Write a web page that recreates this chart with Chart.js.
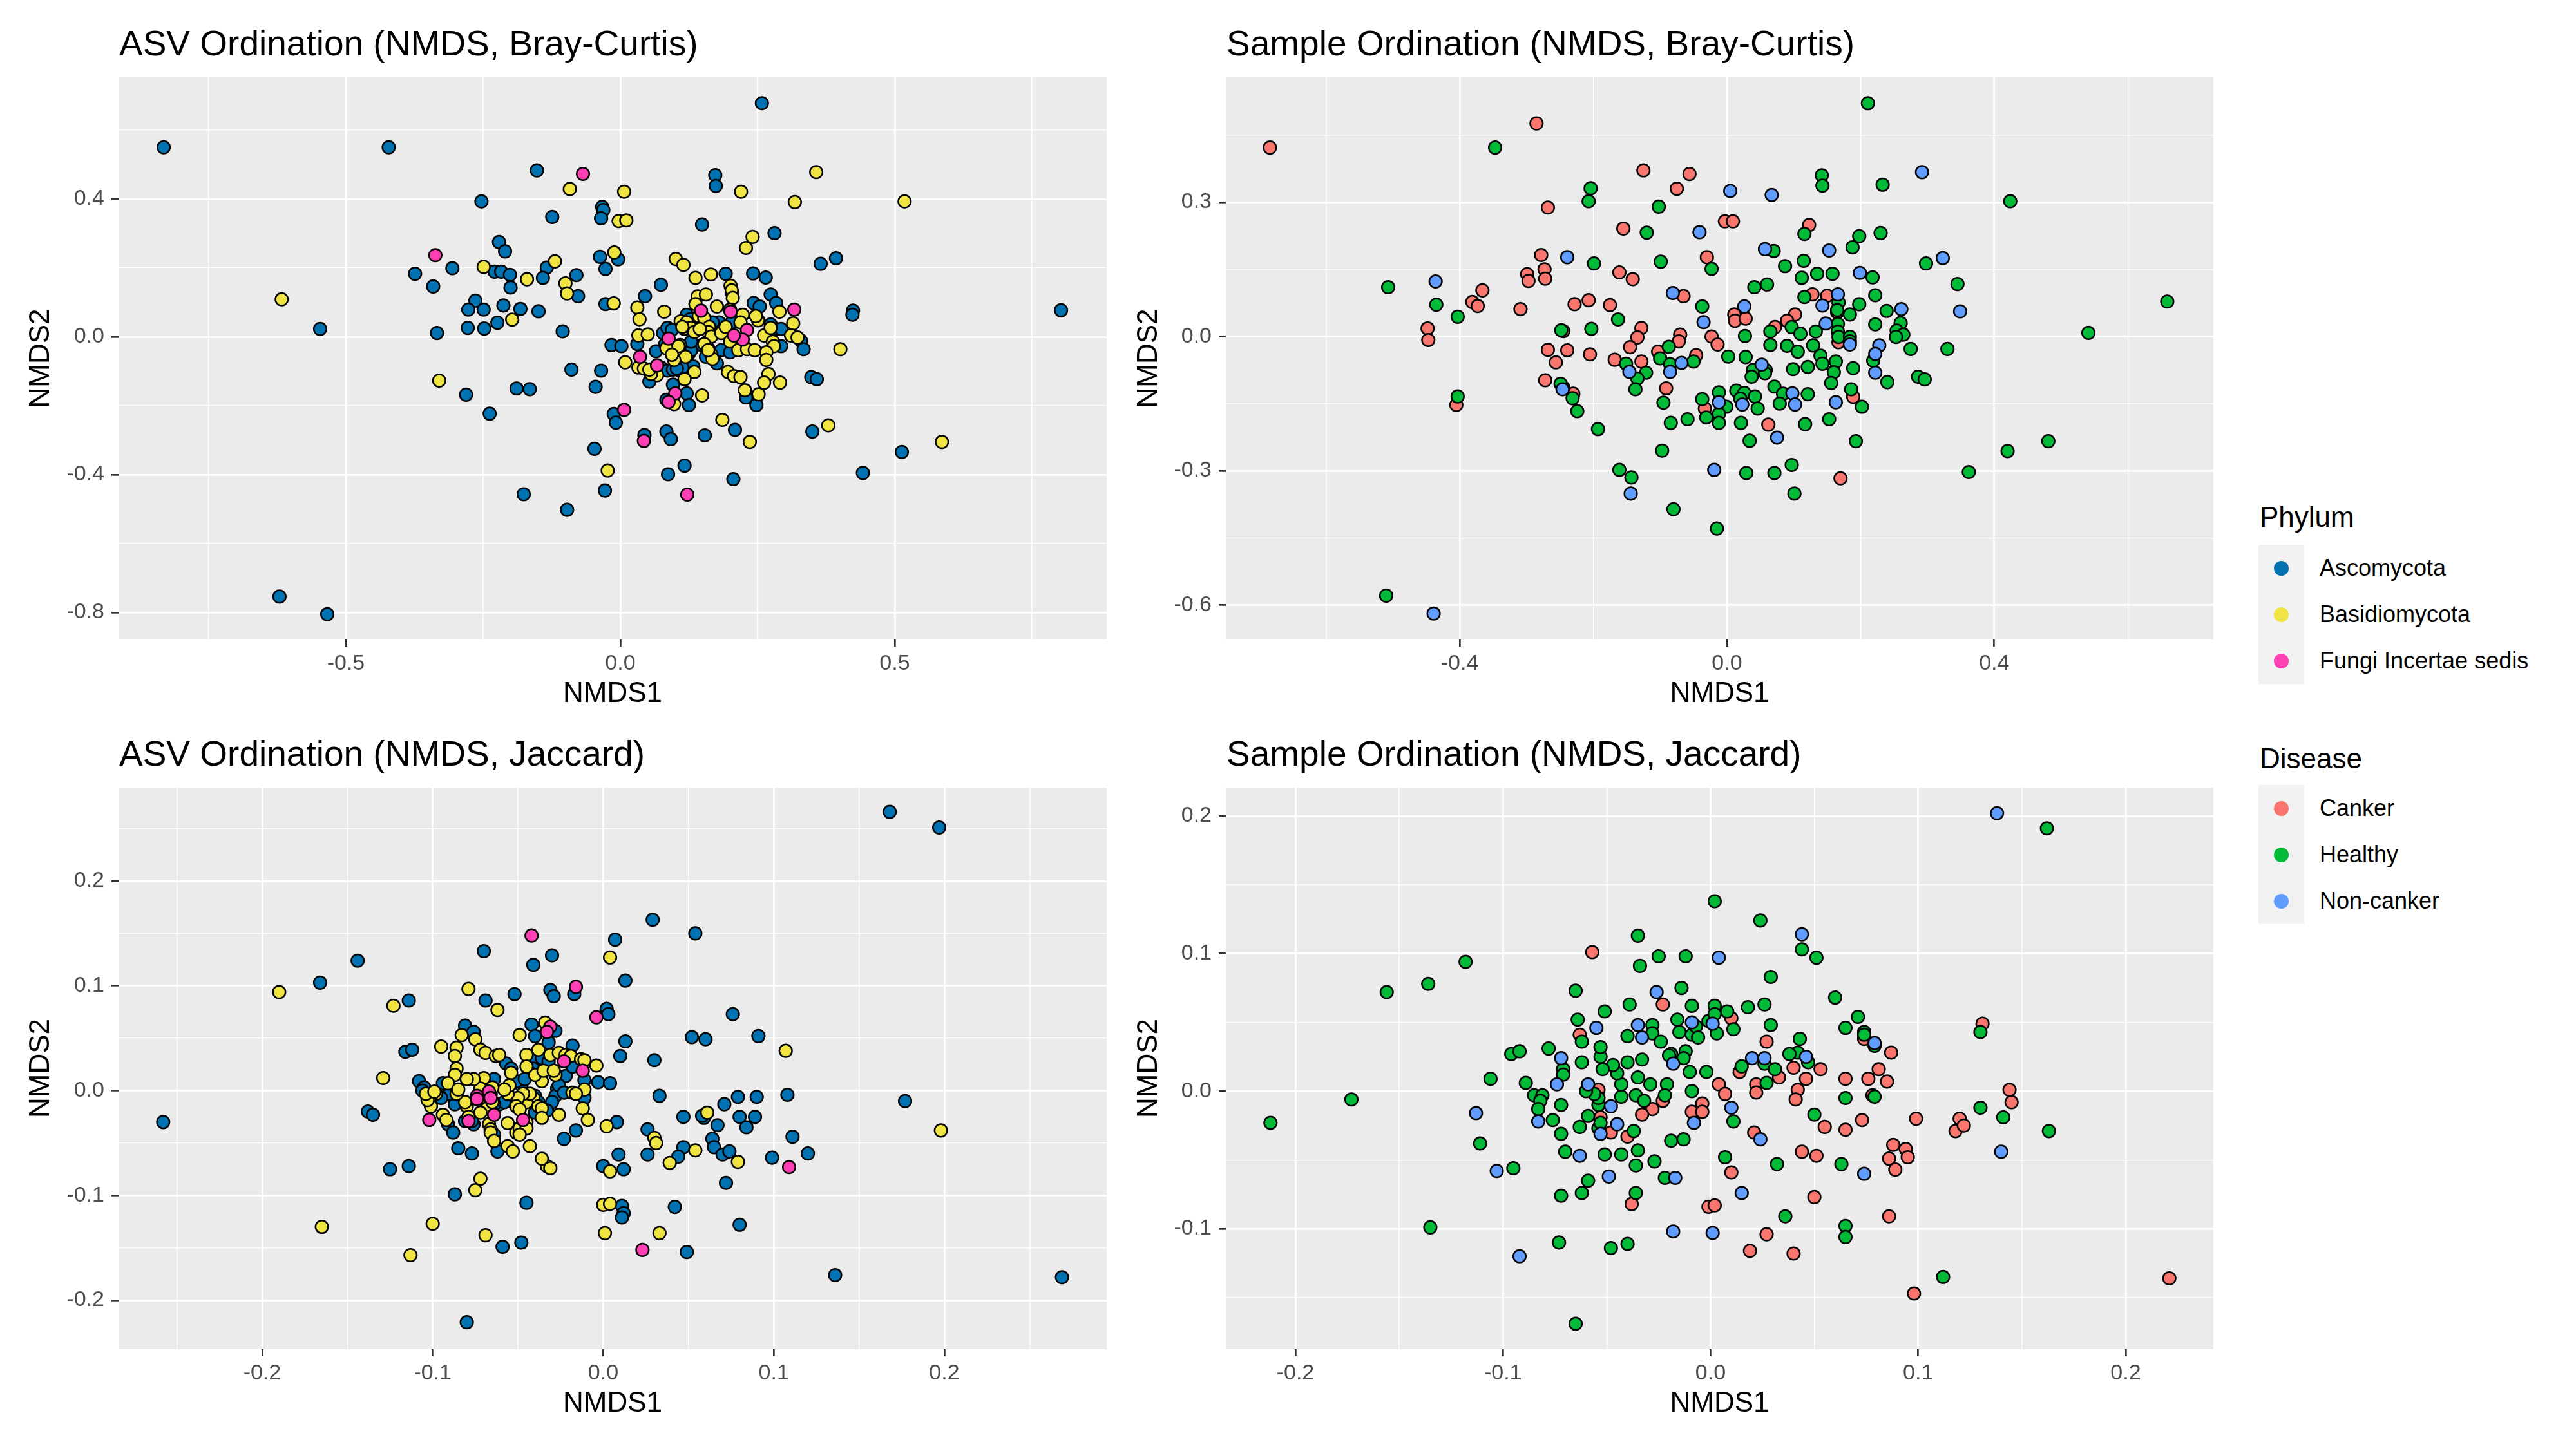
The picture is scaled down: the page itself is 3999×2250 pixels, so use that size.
<!DOCTYPE html>
<html>
<head>
<meta charset="utf-8">
<script src="https://cdn.jsdelivr.net/npm/chart.js@4.4.1/dist/chart.umd.min.js"></script>
<style>
html,body{margin:0;padding:0;background:#ffffff;}
body{width:3999px;height:2250px;position:relative;overflow:hidden;font-family:"Liberation Sans",Arial,Helvetica,sans-serif;}
canvas{position:absolute;}
.title{position:absolute;font-size:55px;line-height:55px;color:#000;white-space:nowrap;}
.ltitle{position:absolute;font-size:44px;line-height:44px;color:#000;white-space:nowrap;}
.ltext{position:absolute;font-size:36px;line-height:36px;color:#000;white-space:nowrap;}
.keybg{position:absolute;background:#F2F2F2;}
.dot{position:absolute;border-radius:50%;width:23px;height:23px;}
</style>
</head>
<body>
<div class="title" style="left:185px;top:40px;">ASV Ordination (NMDS, Bray-Curtis)</div>
<div class="title" style="left:1904px;top:40px;">Sample Ordination (NMDS, Bray-Curtis)</div>
<div class="title" style="left:185px;top:1143px;">ASV Ordination (NMDS, Jaccard)</div>
<div class="title" style="left:1904px;top:1143px;">Sample Ordination (NMDS, Jaccard)</div>
<canvas id="c1" width="1740" height="1110" style="left:0px;top:0px;"></canvas>
<canvas id="c2" width="1740" height="1110" style="left:1720px;top:0px;"></canvas>
<canvas id="c3" width="1740" height="1102" style="left:0px;top:1110px;"></canvas>
<canvas id="c4" width="1740" height="1102" style="left:1720px;top:1110px;"></canvas>
<div id="legend"></div>
<script>
// ---------------- categories ----------------
const phylumNames = ["Ascomycota", "Basidiomycota", "Fungi Incertae sedis"];
const phylumColors = ["#0072B2", "#F0E442", "#FF3FB4"];
const diseaseNames = ["Canker", "Healthy", "Non-canker"];
const diseaseColors = ["#F8766D", "#00BA38", "#619CFF"];

// ---------------- tick labels ----------------
const asvBrayXTicks = [-0.5, 0.0, 0.5];
const asvBrayXMinor = [-0.75, -0.25, 0.25, 0.75];
const asvBrayYTicks = [-0.8, -0.4, 0.0, 0.4];
const asvBrayYMinor = [-0.6, -0.2, 0.2, 0.6];
const smpBrayXTicks = [-0.4, 0.0, 0.4];
const smpBrayXMinor = [-0.6, -0.2, 0.2, 0.6];
const smpBrayYTicks = [-0.6, -0.3, 0.0, 0.3];
const smpBrayYMinor = [-0.45, -0.15, 0.15, 0.45];
const asvJacXTicks = [-0.2, -0.1, 0.0, 0.1, 0.2];
const asvJacXMinor = [-0.25, -0.15, -0.05, 0.05, 0.15, 0.25];
const asvJacYTicks = [-0.2, -0.1, 0.0, 0.1, 0.2];
const asvJacYMinor = [-0.15, -0.05, 0.05, 0.15, 0.25];
const smpJacXTicks = [-0.2, -0.1, 0.0, 0.1, 0.2];
const smpJacXMinor = [-0.15, -0.05, 0.05, 0.15];
const smpJacYTicks = [-0.1, 0.0, 0.1, 0.2];
const smpJacYMinor = [-0.15, -0.05, 0.05, 0.15];

// ---------------- ASV, Bray-Curtis ----------------
const asvBrayAscomycota = [[-0.832,0.550],[-0.422,0.550],[0.258,0.678],[-0.152,0.483],[-0.253,0.393],[-0.124,0.348],[-0.033,0.377],[-0.031,0.368],[-0.035,0.344],[0.173,0.469],[0.174,0.438],[0.149,0.326],[0.281,0.301],[-0.221,0.275],[-0.210,0.248],[-0.306,0.199],[-0.374,0.183],[-0.341,0.146],[-0.134,0.201],[-0.141,0.171],[-0.080,0.179],[-0.077,0.118],[-0.037,0.232],[-0.027,0.197],[-0.004,0.225],[-0.229,0.189],[-0.217,0.189],[-0.201,0.180],[-0.200,0.143],[-0.264,0.105],[-0.277,0.079],[-0.249,0.079],[-0.213,0.091],[-0.182,0.081],[-0.149,0.074],[-0.224,0.041],[-0.278,0.026],[-0.248,0.024],[-0.334,0.011],[-0.547,0.023],[-0.105,0.016],[0.365,0.212],[0.393,0.228],[0.265,0.172],[0.242,0.184],[0.192,0.183],[0.803,0.077],[-0.089,-0.095],[-0.189,-0.150],[-0.165,-0.152],[-0.281,-0.168],[-0.238,-0.223],[-0.012,-0.224],[-0.008,-0.249],[0.044,-0.285],[0.084,-0.275],[0.092,-0.297],[0.154,-0.286],[0.209,-0.270],[0.350,-0.275],[-0.047,-0.325],[0.117,-0.374],[0.087,-0.399],[0.206,-0.413],[-0.028,-0.446],[-0.176,-0.457],[-0.097,-0.502],[0.442,-0.395],[0.513,-0.334],[-0.621,-0.754],[-0.534,-0.805],
[0.074,0.151],[0.045,0.118],[-0.027,0.095],[0.031,-0.021],[-0.016,-0.024],[0.002,-0.027],[-0.035,-0.098],[-0.045,-0.145],[0.053,-0.130],[0.074,-0.089],[0.086,-0.098],[0.096,-0.095],[0.109,-0.098],[0.129,-0.098],[0.096,-0.139],[0.121,-0.164],[0.084,-0.183],[0.125,-0.198],[0.065,-0.042],[0.082,-0.021],[0.078,0.011],[0.086,0.026],[0.125,-0.049],[0.129,-0.039],[0.102,-0.045],[0.133,-0.086],[0.113,-0.089],[0.103,-0.092],[0.121,0.064],[0.127,0.051],[0.149,-0.024],[0.160,-0.033],[0.176,-0.077],[0.180,0.042],[0.203,0.129],[0.203,0.042],[0.196,-0.036],[0.223,-0.021],[0.243,0.098],[0.254,0.088],[0.274,0.036],[0.282,0.023],[0.274,0.123],[0.284,0.098],[0.293,-0.027],[0.293,0.023],[0.329,-0.011],[0.334,-0.036],[0.424,0.076],[0.423,0.064],[0.348,-0.117],[0.358,-0.123],[0.229,-0.176],[0.248,-0.198],[0.156,-0.058],[0.184,-0.039],[0.168,0.042],[0.129,-0.014],[0.094,0.020],[0.200,-0.045]];
const asvBrayBasidiomycota = [[-0.617,0.109],[-0.330,-0.127],[-0.092,0.429],[0.007,0.421],[-0.003,0.336],[0.011,0.338],[0.220,0.421],[0.357,0.478],[0.318,0.391],[0.518,0.393],[0.241,0.290],[0.229,0.258],[-0.011,0.245],[-0.119,0.219],[-0.249,0.203],[-0.170,0.167],[-0.100,0.155],[-0.097,0.126],[-0.197,0.050],[0.101,0.226],[0.115,0.209],[0.137,0.171],[0.165,0.181],[0.379,-0.257],[0.586,-0.305],[0.186,-0.241],[0.236,-0.305],[-0.023,-0.388],
[-0.012,0.097],[0.031,0.085],[0.035,0.051],[0.080,0.073],[0.033,0.004],[0.050,0.007],[0.009,-0.074],[0.033,-0.089],[0.043,-0.092],[0.067,-0.111],[0.056,-0.108],[0.135,-0.102],[0.117,-0.123],[0.098,-0.195],[0.149,-0.170],[0.084,-0.033],[0.109,-0.024],[0.111,-0.049],[0.104,-0.055],[0.119,-0.058],[0.098,-0.067],[0.053,-0.095],[0.110,0.045],[0.121,0.042],[0.117,0.023],[0.129,0.026],[0.135,0.014],[0.141,0.117],[0.156,0.123],[0.137,0.095],[0.143,0.060],[0.153,0.054],[0.176,0.088],[0.162,0.029],[0.160,0.014],[0.166,0.001],[0.166,-0.052],[0.168,-0.064],[0.184,0.011],[0.192,0.029],[0.201,0.148],[0.203,0.135],[0.205,0.113],[0.200,0.079],[0.223,0.064],[0.219,0.042],[0.200,-0.014],[0.215,-0.039],[0.231,-0.036],[0.245,-0.039],[0.251,0.048],[0.247,0.060],[0.262,0.004],[0.274,0.026],[0.290,0.073],[0.278,-0.014],[0.280,-0.027],[0.266,-0.045],[0.266,-0.067],[0.315,0.039],[0.311,0.004],[0.323,-0.002],[0.401,-0.036],[0.270,-0.108],[0.262,-0.133],[0.291,-0.133],[0.227,-0.155],[0.252,-0.167],[0.196,-0.102],[0.207,-0.114],[0.219,-0.117],[0.153,-0.021],[0.145,0.023],[0.113,0.029],[0.106,-0.027],[0.094,-0.052],[0.160,-0.039]];
const asvBrayFungiIS = [[-0.068,0.473],[-0.337,0.237],[0.007,-0.212],[0.043,-0.302],[0.122,-0.458],[0.036,-0.058],[0.067,-0.083],[0.100,-0.164],[0.088,-0.189],[0.088,-0.005],[0.147,0.076],[0.201,0.073],[0.231,0.020],[0.223,-0.008],[0.207,0.004],[0.317,0.079]];

// ---------------- Samples, Bray-Curtis ----------------
const smpBrayCanker = [[-0.684,0.422],[-0.285,0.476],[-0.125,0.371],[-0.056,0.363],[-0.075,0.330],[-0.268,0.288],[-0.448,0.018],[-0.447,-0.008],[-0.405,-0.153],[-0.366,0.103],[-0.381,0.077],[-0.373,0.068],[0.170,-0.317],
[-0.155,0.241],[-0.003,0.257],[0.009,0.257],[0.123,0.249],[-0.278,0.182],[-0.030,0.177],[-0.273,0.150],[-0.272,0.129],[-0.299,0.139],[-0.297,0.124],[-0.161,0.143],[-0.141,0.128],[-0.065,0.090],[-0.309,0.061],[-0.228,0.072],[-0.207,0.081],[-0.175,0.070],[0.011,0.049],[0.012,0.035],[0.028,0.040],[0.128,0.094],[0.150,0.091],[0.165,0.054],[0.102,0.049],[0.090,0.035],[0.072,0.021],[0.167,-0.013],[-0.023,0.000],[-0.014,-0.018],[0.189,-0.135],[0.062,-0.197],[-0.033,-0.161],[-0.230,-0.128],[-0.272,-0.098],[-0.256,-0.058],[-0.268,-0.030],[-0.239,-0.031],[-0.205,-0.040],[-0.245,0.012],[-0.128,0.019],[-0.134,-0.002],[-0.145,-0.024],[-0.168,-0.052],[-0.128,-0.056],[-0.070,0.004],[-0.072,-0.011],[-0.103,-0.034],[-0.046,-0.042],[-0.091,-0.116]];
const smpBrayHealthy = [[0.211,0.521],[-0.347,0.422],[0.142,0.360],[0.143,0.337],[0.233,0.339],[0.424,0.302],[-0.204,0.331],[-0.207,0.302],[-0.102,0.290],[-0.507,0.110],[-0.435,0.071],[-0.403,0.044],[-0.403,-0.134],[0.659,0.078],[0.541,0.008],[0.420,-0.256],[0.481,-0.234],[0.362,-0.303],[-0.510,-0.579],[-0.015,-0.429],[-0.080,-0.386],[-0.161,-0.298],[-0.143,-0.315],[0.029,-0.305],[0.071,-0.305],[0.097,-0.287],[0.101,-0.351],
[-0.120,0.232],[0.116,0.229],[0.198,0.224],[0.188,0.199],[0.230,0.231],[0.070,0.191],[0.115,0.169],[0.087,0.157],[-0.199,0.163],[-0.099,0.167],[-0.023,0.151],[0.112,0.131],[0.135,0.140],[0.158,0.140],[0.218,0.132],[0.298,0.163],[0.345,0.117],[0.041,0.110],[0.060,0.116],[-0.163,0.038],[-0.037,0.067],[0.116,0.088],[0.167,0.076],[0.165,0.059],[0.184,0.049],[0.198,0.072],[0.222,0.092],[0.239,0.057],[0.222,0.027],[0.260,0.030],[0.254,0.013],[0.264,0.004],[0.253,-0.001],[0.275,-0.028],[0.330,-0.028],[0.219,-0.054],[0.240,-0.102],[0.286,-0.090],[0.296,-0.096],[0.097,0.021],[0.065,0.011],[0.110,0.006],[0.133,0.011],[0.166,0.028],[0.166,0.011],[0.167,-0.001],[0.184,-0.001],[0.184,-0.011],[0.027,0.001],[0.065,-0.019],[0.090,-0.021],[0.106,-0.034],[0.129,-0.020],[0.140,-0.043],[0.143,-0.061],[0.163,-0.056],[0.160,-0.080],[0.156,-0.104],[0.189,-0.071],[0.099,-0.073],[0.121,-0.068],[0.002,-0.045],[0.028,-0.046],[0.039,-0.075],[0.058,-0.075],[0.037,-0.090],[0.057,-0.082],[0.071,-0.112],[0.084,-0.128],[0.079,-0.150],[0.121,-0.129],[0.186,-0.118],[0.202,-0.157],[0.153,-0.185],[0.117,-0.196],[0.034,-0.233],[0.193,-0.234],[0.021,-0.193],[0.014,-0.121],[0.026,-0.126],[0.020,-0.139],[0.042,-0.134],[0.046,-0.161],[-0.001,-0.157],[-0.012,-0.125],[-0.037,-0.140],[-0.031,-0.181],[-0.012,-0.173],[-0.012,-0.193],[-0.059,-0.185],[-0.084,-0.193],[-0.097,-0.255],[-0.193,-0.207],[-0.224,-0.167],[-0.231,-0.138],[-0.245,-0.114],[-0.249,-0.106],[-0.248,0.014],[-0.203,0.017],[-0.151,-0.061],[-0.121,-0.081],[-0.134,-0.094],[-0.137,-0.118],[-0.087,-0.023],[-0.100,-0.049],[-0.085,-0.062],[-0.050,-0.056],[-0.095,-0.148]];
const smpBrayNonCanker = [[0.005,0.325],[0.067,0.316],[0.292,0.367],[-0.436,0.123],[-0.019,-0.298],[-0.144,-0.351],[-0.439,-0.619],
[-0.041,0.233],[0.057,0.195],[0.153,0.192],[-0.239,0.177],[0.199,0.142],[0.323,0.175],[0.349,0.056],[-0.081,0.097],[0.026,0.067],[-0.035,0.032],[0.166,0.094],[0.143,0.069],[0.261,0.061],[0.228,-0.020],[0.222,-0.039],[0.222,-0.081],[0.148,0.029],[0.184,-0.018],[0.052,-0.063],[0.098,-0.127],[0.102,-0.152],[0.163,-0.147],[0.075,-0.226],[0.023,-0.152],[-0.012,-0.147],[-0.246,-0.118],[-0.146,-0.079],[-0.085,-0.079],[-0.068,-0.059]];

// ---------------- ASV, Jaccard ----------------
const asvJacAscomycota = [[-0.258,-0.030],[-0.166,0.103],[-0.144,0.124],[-0.114,0.086],[-0.070,0.133],[-0.041,0.120],[-0.030,0.129],[-0.069,0.086],[-0.052,0.092],[-0.031,0.096],[-0.029,0.090],[-0.017,0.092],[0.029,0.163],[0.054,0.150],[0.007,0.144],[0.013,0.105],[0.076,0.073],[0.052,0.051],[0.060,0.049],[0.091,0.052],[0.030,0.029],[0.033,-0.005],[0.168,0.266],[0.197,0.251],[0.177,-0.010],[0.108,-0.004],[0.090,-0.006],[0.079,-0.006],[0.071,-0.013],[0.059,-0.026],[0.058,-0.024],[0.047,-0.025],[0.080,-0.025],[0.089,-0.025],[0.067,-0.033],[0.084,-0.035],[0.026,-0.037],[0.064,-0.046],[0.065,-0.054],[0.047,-0.054],[0.070,-0.061],[0.074,-0.058],[0.111,-0.044],[0.120,-0.060],[0.099,-0.064],[0.044,-0.063],[0.026,-0.061],[0.000,-0.072],[0.012,-0.075],[0.072,-0.088],[0.011,-0.110],[0.012,-0.117],[0.011,-0.121],[0.042,-0.111],[0.080,-0.128],[0.049,-0.154],[0.136,-0.176],[0.269,-0.178],[-0.045,-0.107],[-0.048,-0.145],[-0.059,-0.149],[-0.080,-0.221],[-0.087,-0.099],[-0.114,-0.072],[-0.125,-0.075],[-0.138,-0.020],[-0.135,-0.023],
[0.002,0.078],[0.003,0.073],[0.013,0.047],[0.010,0.033],[-0.116,0.037],[-0.112,0.039],[-0.081,0.062],[-0.076,0.056],[-0.057,0.026],[-0.054,0.021],[-0.042,0.063],[-0.040,0.052],[-0.028,0.057],[-0.032,0.046],[-0.018,0.043],[-0.041,0.032],[-0.036,0.031],[-0.032,0.028],[-0.011,0.010],[-0.003,0.008],[0.004,0.007],[-0.022,0.014],[-0.027,0.002],[-0.028,-0.005],[-0.030,-0.011],[-0.041,0.021],[-0.040,-0.005],[-0.038,-0.011],[-0.040,-0.021],[-0.048,0.005],[-0.051,0.009],[-0.056,-0.010],[-0.061,-0.013],[-0.058,-0.011],[-0.064,0.011],[-0.066,-0.003],[-0.070,-0.013],[-0.064,-0.013],[-0.064,-0.042],[-0.081,-0.029],[-0.076,-0.032],[-0.077,-0.029],[-0.087,-0.013],[-0.087,0.001],[-0.090,0.003],[-0.094,0.007],[-0.090,-0.003],[-0.095,-0.007],[-0.091,-0.032],[-0.088,-0.040],[-0.108,0.009],[-0.105,0.003],[-0.106,0.000],[-0.043,0.017],[-0.046,0.011],[-0.026,0.005],[-0.033,-0.019],[-0.023,-0.002],[-0.011,-0.007],[-0.023,-0.046],[-0.016,-0.038],[0.008,-0.030],[-0.062,-0.058],[-0.085,-0.055],[-0.077,-0.060],[0.009,-0.061],[-0.018,0.023]];
const asvJacBasidiomycota = [[-0.190,0.094],[-0.123,0.081],[-0.079,0.097],[0.004,0.127],[0.107,0.038],[0.198,-0.038],[-0.165,-0.130],[-0.113,-0.157],[-0.100,-0.127],[-0.069,-0.138],[-0.075,-0.095],[-0.072,-0.084],[-0.033,-0.072],[-0.031,-0.074],[0.000,-0.109],[0.004,-0.108],[0.001,-0.136],[0.033,-0.136],[0.039,-0.069],[0.054,-0.057],[0.079,-0.068],[0.004,-0.077],[0.030,-0.045],[0.031,-0.050],[0.061,-0.021],
[-0.062,0.077],[-0.129,0.012],[-0.083,0.053],[-0.075,0.049],[-0.095,0.042],[-0.086,0.041],[-0.087,0.033],[-0.086,0.021],[-0.087,0.015],[-0.072,0.039],[-0.069,0.036],[-0.063,0.033],[-0.054,0.017],[-0.049,0.053],[-0.034,0.065],[-0.038,0.039],[-0.045,0.034],[-0.031,0.034],[-0.026,0.036],[-0.022,0.034],[-0.019,0.033],[-0.013,0.030],[-0.011,0.029],[-0.004,0.024],[-0.018,-0.002],[-0.011,0.001],[-0.026,-0.023],[-0.036,0.009],[-0.040,0.015],[-0.035,0.019],[-0.028,0.015],[-0.041,-0.007],[-0.038,-0.015],[-0.036,-0.017],[-0.045,-0.011],[-0.043,-0.003],[-0.047,-0.003],[-0.050,-0.007],[-0.051,-0.015],[-0.049,-0.018],[-0.056,-0.003],[-0.055,0.005],[-0.056,-0.031],[-0.051,-0.040],[-0.049,-0.036],[-0.045,-0.030],[-0.045,-0.036],[-0.049,-0.042],[-0.058,0.001],[-0.070,0.012],[-0.065,0.003],[-0.071,-0.007],[-0.072,0.002],[-0.076,0.011],[-0.080,0.011],[-0.068,-0.017],[-0.065,-0.011],[-0.072,-0.021],[-0.067,-0.032],[-0.066,-0.037],[-0.066,-0.040],[-0.064,-0.048],[-0.080,-0.015],[-0.079,-0.025],[-0.081,-0.011],[-0.086,-0.003],[-0.091,0.007],[-0.085,0.001],[-0.094,-0.023],[-0.092,-0.028],[-0.098,-0.003],[-0.101,-0.005],[-0.101,-0.015],[-0.103,-0.009],[-0.104,-0.003],[-0.099,-0.001],[-0.061,0.034],[-0.045,0.023],[-0.029,0.019],[-0.036,-0.026],[-0.016,-0.003],[-0.012,-0.017],[-0.009,-0.028],[0.002,-0.034],[-0.056,-0.053],[-0.043,-0.053],[-0.053,-0.058],[-0.036,-0.065]];
const asvJacFungiIS = [[-0.042,0.148],[-0.016,0.099],[0.023,-0.152],[0.109,-0.073],[-0.004,0.070],[-0.031,0.061],[-0.033,0.056],[-0.023,0.028],[-0.012,0.019],[-0.067,-0.001],[-0.066,-0.007],[-0.074,-0.005],[-0.074,-0.008],[-0.064,-0.023],[-0.079,-0.029],[-0.102,-0.028],[-0.047,-0.028]];

// ---------------- Samples, Jaccard ----------------
const smpJacCanker = [[-0.057,0.101],[0.131,0.049],[0.144,0.001],[0.145,-0.008],[0.118,-0.029],[0.120,-0.020],[0.122,-0.025],[0.098,-0.147],[0.221,-0.136],[0.040,-0.118],[0.019,-0.116],[0.027,-0.104],
[-0.023,0.063],[0.074,0.038],[0.087,0.028],[0.027,0.036],[0.053,0.016],[0.040,0.017],[0.046,0.009],[0.042,0.001],[0.041,-0.006],[0.065,0.009],[0.076,0.009],[0.081,0.016],[0.085,0.007],[0.078,-0.003],[0.055,-0.026],[0.065,-0.028],[0.073,-0.021],[0.099,-0.020],[0.088,-0.039],[0.094,-0.042],[0.095,-0.048],[0.086,-0.049],[0.089,-0.057],[0.051,-0.047],[0.044,-0.044],[0.050,-0.077],[0.086,-0.091],[-0.001,-0.084],[0.002,-0.083],[0.010,-0.059],[0.021,-0.030],[0.004,0.005],[0.007,-0.002],[0.014,0.014],[0.033,0.010],[0.022,0.005],[0.022,-0.001],[-0.004,-0.009],[-0.009,-0.015],[-0.004,-0.015],[-0.023,-0.007],[-0.028,-0.013],[-0.033,-0.017],[0.010,0.053],[-0.063,0.041],[-0.038,-0.082],[-0.048,-0.030],[-0.040,-0.033],[-0.053,-0.019],[-0.054,0.001]];
const smpJacHealthy = [[-0.212,-0.023],[-0.173,-0.006],[-0.156,0.072],[-0.136,0.078],[-0.118,0.094],[-0.135,-0.099],[-0.065,-0.169],[-0.073,-0.110],[-0.048,-0.114],[-0.040,-0.111],[0.002,0.138],[0.024,0.124],[-0.035,0.113],[-0.025,0.098],[-0.012,0.098],[0.044,0.103],[0.051,0.097],[0.162,0.191],[0.130,0.043],[0.130,-0.012],[0.141,-0.019],[0.163,-0.029],[0.065,-0.098],[0.065,-0.106],[0.112,-0.135],[0.036,-0.091],
[-0.034,0.091],[0.029,0.083],[-0.065,0.073],[-0.014,0.075],[-0.039,0.063],[-0.051,0.058],[-0.009,0.062],[0.002,0.062],[0.008,0.058],[0.018,0.061],[0.026,0.063],[0.060,0.068],[0.071,0.054],[0.065,0.046],[0.074,0.043],[0.074,0.041],[0.079,0.033],[0.029,0.048],[0.043,0.038],[0.042,0.028],[0.038,0.027],[0.047,0.021],[0.079,-0.004],[0.065,-0.005],[0.050,-0.017],[0.063,-0.053],[0.032,-0.053],[0.007,-0.048],[0.011,-0.022],[0.015,0.018],[0.026,0.020],[0.031,0.016],[0.027,0.006],[-0.002,0.014],[-0.010,0.014],[-0.009,0.000],[-0.019,-0.036],[-0.013,-0.035],[-0.012,0.029],[-0.013,0.024],[-0.019,0.027],[-0.033,0.023],[-0.040,0.021],[-0.035,0.010],[-0.029,0.005],[-0.021,0.005],[-0.022,-0.003],[-0.036,-0.003],[-0.032,-0.007],[-0.043,-0.004],[-0.043,0.005],[-0.045,0.013],[-0.047,0.019],[-0.053,0.025],[-0.053,0.032],[-0.052,0.016],[-0.062,0.021],[-0.064,0.052],[-0.062,0.036],[-0.028,0.048],[-0.028,0.042],[-0.040,0.040],[-0.024,0.036],[-0.016,0.052],[-0.015,0.043],[-0.009,0.041],[-0.007,0.047],[-0.006,0.039],[-0.001,0.051],[0.002,0.056],[0.003,0.042],[0.011,0.045],[-0.078,0.031],[-0.096,0.027],[-0.092,0.029],[-0.071,0.016],[-0.071,0.012],[-0.089,0.006],[-0.106,0.009],[-0.085,-0.003],[-0.081,-0.003],[-0.082,-0.007],[-0.083,-0.013],[-0.076,-0.021],[-0.072,-0.010],[-0.072,-0.031],[-0.111,-0.038],[-0.070,-0.044],[-0.095,-0.056],[-0.059,-0.065],[-0.062,-0.074],[-0.072,-0.076],[-0.051,-0.046],[-0.043,-0.046],[-0.035,-0.043],[-0.036,-0.054],[-0.027,-0.051],[-0.022,-0.063],[-0.036,-0.074],[-0.037,-0.029],[-0.054,-0.027],[-0.063,-0.026],[-0.059,-0.018],[-0.053,-0.023],[-0.054,-0.010],[-0.054,-0.005],[-0.056,-0.002],[-0.060,0.000],[-0.020,0.026]];
const smpJacNonCanker = [[0.138,0.202],[0.044,0.114],[0.004,0.097],[-0.092,-0.120],[-0.018,-0.102],[0.001,-0.103],[0.140,-0.044],
[-0.026,0.072],[0.079,0.035],[0.046,0.025],[0.074,-0.060],[0.015,-0.074],[0.024,-0.035],[0.010,-0.012],[0.020,0.024],[0.026,0.024],[-0.008,-0.023],[-0.018,0.020],[-0.055,0.046],[-0.035,0.048],[-0.033,0.039],[-0.009,0.050],[0.001,0.049],[-0.072,0.024],[-0.074,0.005],[-0.083,-0.022],[-0.113,-0.016],[-0.063,-0.047],[-0.103,-0.058],[-0.049,-0.062],[-0.017,-0.063],[-0.053,-0.031],[-0.045,-0.024],[-0.048,-0.011],[-0.059,0.005]];

// ---------------- chart builder ----------------
Chart.defaults.font.family = '"Liberation Sans", Arial, Helvetica, sans-serif';

const panelBg = {
  id: 'panelBg',
  beforeDraw(chart) {
    const a = chart.chartArea, ctx = chart.ctx;
    ctx.save();
    ctx.fillStyle = '#EBEBEB';
    ctx.fillRect(a.left, a.top, a.right - a.left, a.bottom - a.top);
    ctx.restore();
  }
};

function isIn(v, list) { return list.some(t => Math.abs(t - v) < 1e-9); }

function axisOpts(axis, range, major, minor, fixedSize, titleText) {
  const all = major.concat(minor).sort((a, b) => a - b);
  const o = {
    type: 'linear',
    min: range[0], max: range[1],
    afterBuildTicks: (s) => { s.ticks = all.map(v => ({ value: v })); },
    ticks: {
      autoSkip: false, maxRotation: 0, minRotation: 0,
      color: '#4D4D4D',
      font: { size: 34 },
      padding: axis === 'x' ? 6 : 11,
      callback: (v) => isIn(v, major) ? Number(v).toFixed(1) : ''
    },
    grid: {
      color: '#FFFFFF',
      lineWidth: (c) => (c.tick && isIn(c.tick.value, major)) ? 2.7 : 1.35,
      drawTicks: true,
      tickLength: 11,
      tickWidth: 2.7,
      tickColor: (c) => (c.tick && isIn(c.tick.value, major)) ? '#333333' : 'rgba(0,0,0,0)'
    },
    border: { display: false },
    title: {
      display: true, text: titleText, color: '#000000',
      font: { size: 44 },
      padding: axis === 'x' ? { top: 0, bottom: 6 } : { top: 37, bottom: 0 }
    }
  };
  if (axis === 'x') {
    o.position = 'bottom';
    o.afterFit = (s) => { s.height = fixedSize; };
  } else {
    o.position = 'left';
    o.afterFit = (s) => { s.width = fixedSize; };
  }
  return o;
}

function pts(arr) { return arr.map(p => ({ x: p[0], y: p[1] })); }

function makeChart(id, canvasLeft, canvasTop, area, xr, yr, xMaj, xMin, yMaj, yMin, series, names, colors) {
  const cv = document.getElementById(id);
  const W = cv.width, H = cv.height;
  const datasets = series.map((s, i) => ({
    label: names[i],
    data: pts(s),
    backgroundColor: colors[i],
    borderColor: '#000000',
    borderWidth: 2.5,
    pointRadius: 9.8,
    pointHoverRadius: 9.8,
    order: series.length - i
  }));
  new Chart(cv, {
    type: 'scatter',
    data: { datasets },
    options: {
      responsive: false, animation: false, devicePixelRatio: 1, events: [],
      layout: { padding: { left: 0, top: area.top - canvasTop, right: canvasLeft + W - area.right, bottom: 0 } },
      plugins: { legend: { display: false }, tooltip: { enabled: false }, title: { display: false } },
      scales: {
        x: axisOpts('x', xr, xMaj, xMin, canvasTop + H - area.bottom, 'NMDS1'),
        y: axisOpts('y', yr, yMaj, yMin, area.left - canvasLeft, 'NMDS2')
      }
    },
    plugins: [panelBg]
  });
}

makeChart('c1', 0, 0, { left: 184, top: 120, right: 1718, bottom: 993 },
  [-0.9143, 0.8862], [-0.8785, 0.7533], asvBrayXTicks, asvBrayXMinor, asvBrayYTicks, asvBrayYMinor,
  [asvBrayAscomycota, asvBrayBasidiomycota, asvBrayFungiIS], phylumNames, phylumColors);
makeChart('c2', 1720, 0, { left: 1903, top: 120, right: 3436, bottom: 993 },
  [-0.750, 0.728], [-0.677, 0.579], smpBrayXTicks, smpBrayXMinor, smpBrayYTicks, smpBrayYMinor,
  [smpBrayCanker, smpBrayHealthy, smpBrayNonCanker], diseaseNames, diseaseColors);
makeChart('c3', 0, 1110, { left: 184, top: 1223, right: 1718, bottom: 2095 },
  [-0.2842, 0.2952], [-0.2467, 0.2891], asvJacXTicks, asvJacXMinor, asvJacYTicks, asvJacYMinor,
  [asvJacAscomycota, asvJacBasidiomycota, asvJacFungiIS], phylumNames, phylumColors);
makeChart('c4', 1720, 1110, { left: 1903, top: 1223, right: 3436, bottom: 2095 },
  [-0.2335, 0.2422], [-0.1875, 0.2206], smpJacXTicks, smpJacXMinor, smpJacYTicks, smpJacYMinor,
  [smpJacCanker, smpJacHealthy, smpJacNonCanker], diseaseNames, diseaseColors);

// ---------------- legends (HTML) ----------------
function addLegend(title, names, colors, titleTop, bgTop) {
  const L = document.getElementById('legend');
  const t = document.createElement('div');
  t.className = 'ltitle'; t.style.left = '3508px'; t.style.top = titleTop + 'px'; t.textContent = title;
  L.appendChild(t);
  const bg = document.createElement('div');
  bg.className = 'keybg'; bg.style.left = '3506px'; bg.style.top = bgTop + 'px';
  bg.style.width = '71px'; bg.style.height = (72 * names.length) + 'px';
  L.appendChild(bg);
  names.forEach((n, i) => {
    const cy = bgTop + 36 + 72 * i;
    const d = document.createElement('div');
    d.className = 'dot'; d.style.left = (3541 - 11.5) + 'px'; d.style.top = (cy - 11.5) + 'px';
    d.style.background = colors[i];
    L.appendChild(d);
    const s = document.createElement('div');
    s.className = 'ltext'; s.style.left = '3601px'; s.style.top = (cy - 17.6) + 'px'; s.textContent = n;
    L.appendChild(s);
  });
}
addLegend('Phylum', phylumNames, phylumColors, 781, 846);
addLegend('Disease', diseaseNames, diseaseColors, 1156, 1219);
</script>
</body>
</html>
